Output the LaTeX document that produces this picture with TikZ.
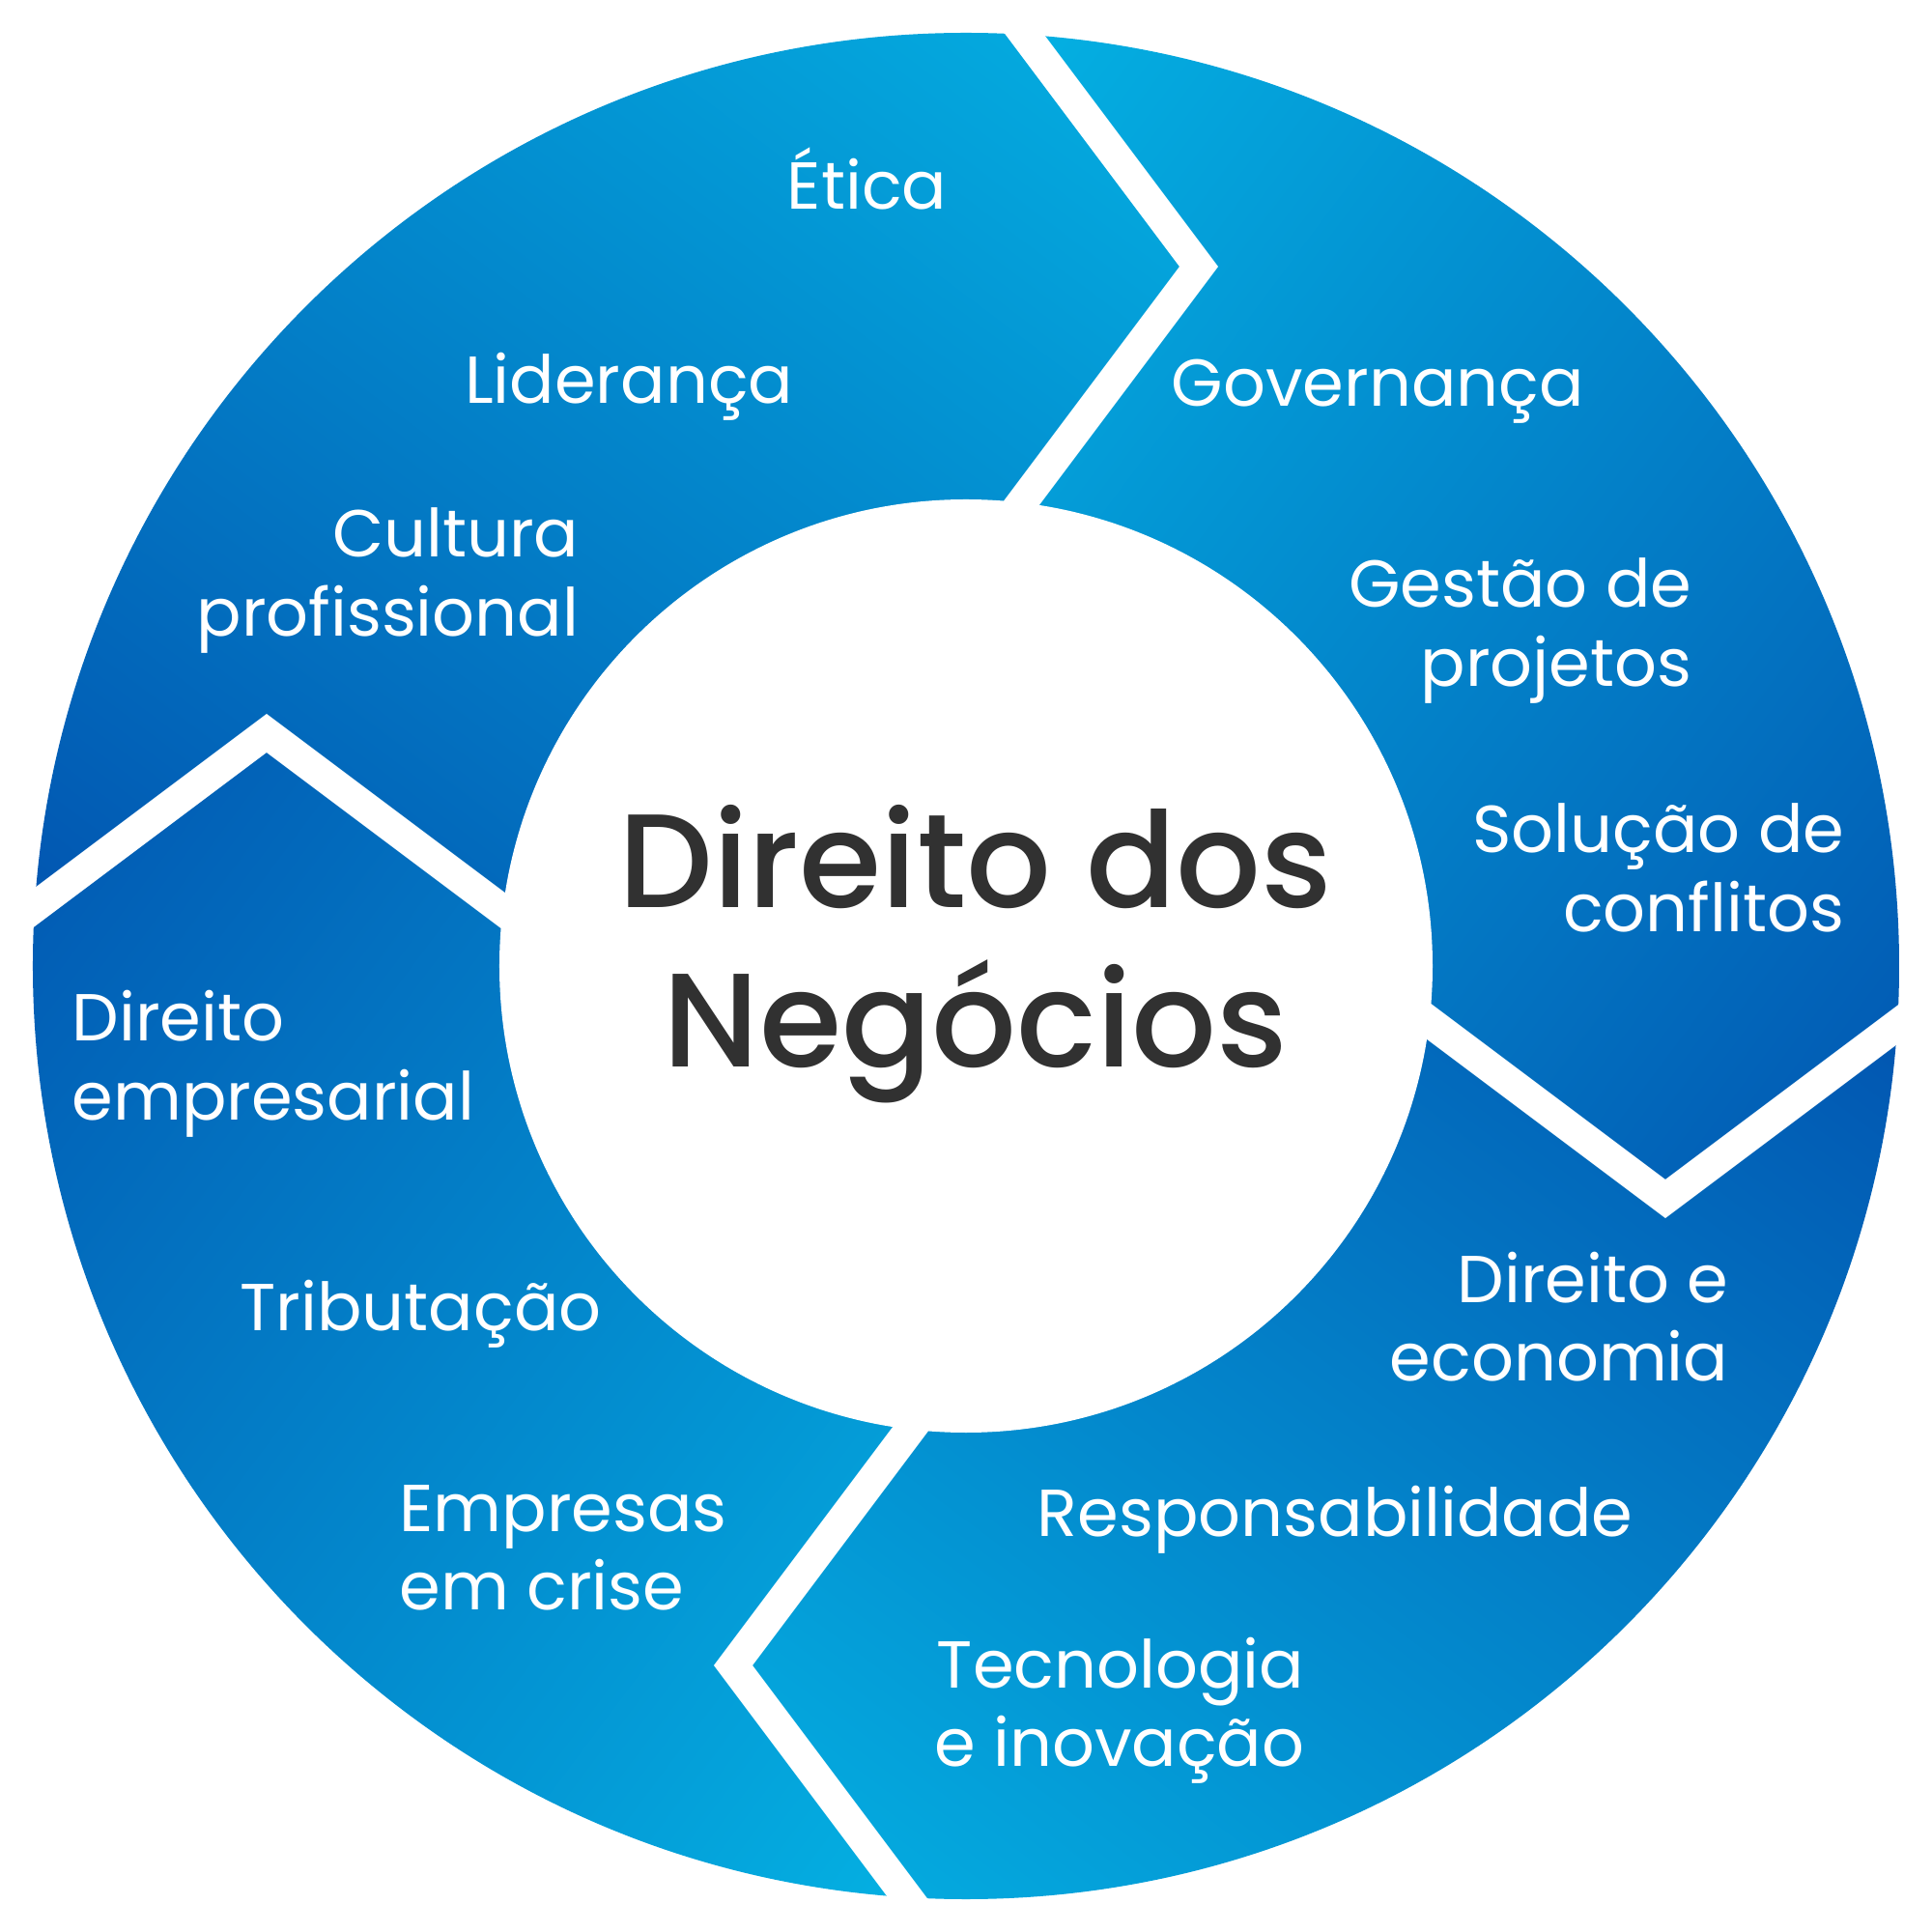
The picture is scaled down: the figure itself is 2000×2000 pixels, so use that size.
\documentclass[tikz,border=0pt]{standalone}
\usepackage{fontspec}
\usetikzlibrary{shadings}
\newfontfamily\lblfont{Poppins}
\newfontfamily\ctrfont{Poppins Medium}
\definecolor{lightc}{RGB}{4,176,226}
\definecolor{darkc}{RGB}{2,86,177}
\colorlet{midc}{lightc!50!darkc}
\definecolor{txtc}{RGB}{49,49,49}
\newcommand\rstack[1]{\vtop{\halign{\hfil##\cr#1\crcr}}}
\newcommand\lstack[1]{\vtop{\halign{##\hfil\cr#1\crcr}}}
\newcommand\cstack[1]{\vtop{\halign{\hfil##\hfil\cr#1\crcr}}}
\begin{document}
\begin{tikzpicture}[x=0.01cm,y=0.01cm,
  lbl/.style={text=white, inner sep=0pt, font=\lblfont\fontsize{19.55}{23.2}\selectfont},
  ctr/.style={text=txtc, inner sep=0pt, font=\ctrfont\fontsize{39.2}{46.9}\selectfont},
  gap/.style={white, line width=0.32cm, line join=miter, miter limit=10}]
\useasboundingbox[fill=white] (-1000,-1000) rectangle (1000,1000);
% chevron mid-lines
\coordinate (tA) at (-119,1204); \coordinate (tT) at (241,724);  \coordinate (tB) at (-59,324);
\coordinate (rA) at (1204,119);  \coordinate (rT) at (724,-241); \coordinate (rB) at (324,59);
\coordinate (bA) at (119,-1204); \coordinate (bT) at (-241,-724);\coordinate (bB) at (59,-324);
\coordinate (lA) at (-1204,-119);\coordinate (lT) at (-724,241); \coordinate (lB) at (-324,-59);
\begin{scope}
  \clip (0,0) circle (966);
  % top-left segment
  \begin{scope}
    \clip (0,0) -- (lB) -- (lT) -- (lA) -- (-1400,1400) -- (tA) -- (tT) -- (tB) -- cycle;
    \shade[lower left=darkc, upper right=lightc, upper left=midc, lower right=midc]
      (-966,61) rectangle (241,966);
  \end{scope}
  % top-right segment
  \begin{scope}
    \clip (0,0) -- (tB) -- (tT) -- (tA) -- (1400,1400) -- (rA) -- (rT) -- (rB) -- cycle;
    \shade[upper left=lightc, lower right=darkc, upper right=midc, lower left=midc]
      (61,-241) rectangle (966,966);
  \end{scope}
  % bottom-right segment
  \begin{scope}
    \clip (0,0) -- (rB) -- (rT) -- (rA) -- (1400,-1400) -- (bA) -- (bT) -- (bB) -- cycle;
    \shade[upper right=darkc, lower left=lightc, upper left=midc, lower right=midc]
      (-241,-966) rectangle (966,-61);
  \end{scope}
  % bottom-left segment
  \begin{scope}
    \clip (0,0) -- (bB) -- (bT) -- (bA) -- (-1400,-1400) -- (lA) -- (lT) -- (lB) -- cycle;
    \shade[upper left=darkc, lower right=lightc, upper right=midc, lower left=midc]
      (-966,-966) rectangle (-61,241);
  \end{scope}
\end{scope}
\fill[white] (0,0) circle (483);
\draw[gap] (tA) -- (tT) -- (tB);
\draw[gap] (rA) -- (rT) -- (rB);
\draw[gap] (bA) -- (bT) -- (bB);
\draw[gap] (lA) -- (lT) -- (lB);
% labels
\node[lbl, anchor=base east] (n1) at (-19,783) {Ética};
\node[lbl, anchor=base east] (n2) at (-178,582) {Liderança};
\node[lbl, anchor=base east] (n3) at (-400,423) {\rstack{Cultura\cr profissional}};
\node[lbl, anchor=base west] (n4) at (212,579) {Governança};
\node[lbl, anchor=base east] (n5) at (752,371) {\rstack{Gestão de\cr projetos}};
\node[lbl, anchor=base east] (n6) at (910,117) {\rstack{Solução de\cr conflitos}};
\node[lbl, anchor=base east] (n7) at (790,-348) {\rstack{Direito e\cr economia}};
\node[lbl, anchor=base east] (n8) at (691,-590) {Responsabilidade};
\node[lbl, anchor=base east] (n9) at (351,-747) {\rstack{Tecnologia\cr e inovação}};
\node[lbl, anchor=base west] (n10) at (-926,-78) {\lstack{Direito\cr empresarial}};
\node[lbl, anchor=base west] (n11) at (-752,-377) {Tributação};
\node[lbl, anchor=base west] (n12) at (-587,-585) {\lstack{Empresas\cr em crise}};
\node[ctr, anchor=base] (c) at (10,60) {\cstack{Direito dos\cr Negócios}};
\end{tikzpicture}
\end{document}
